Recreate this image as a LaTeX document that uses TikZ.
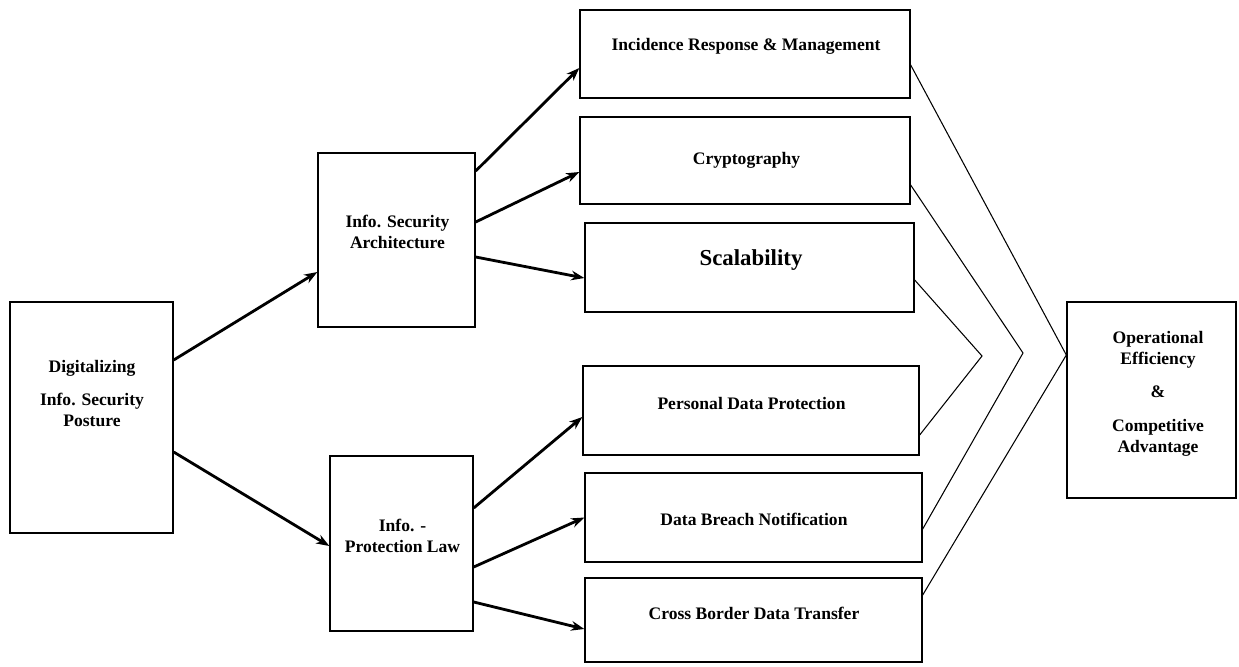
\documentclass[tikz,border=0pt]{standalone}
\usepackage{fontspec}
\setmainfont{Liberation Serif}
\usetikzlibrary{arrows.meta}
\tikzset{
  box/.style={draw,line width=0.8pt,inner sep=0pt},
  txt/.style={font=\bfseries\fontsize{10}{12}\selectfont,align=center,inner sep=0pt},
  link/.style={-{Stealth[length=7.5pt,width=5.5pt]},line width=1.6pt},
  fan/.style={line width=0.6pt}
}
\begin{document}
\begin{tikzpicture}[x=0.02cm,y=-0.02cm]
\useasboundingbox (0,0) rectangle (1239,666);
\node[box,minimum width=3.26cm,minimum height=4.62cm] (dig) at (91.5,417.5) {};
\node[box,minimum width=3.14cm,minimum height=3.48cm] (arch) at (396.5,240) {};
\node[box,minimum width=2.86cm,minimum height=3.5cm] (law) at (401.5,543.5) {};
\node[box,minimum width=6.6cm,minimum height=1.76cm] (inc) at (745,54) {};
\node[box,minimum width=6.6cm,minimum height=1.74cm] (cry) at (745,160.5) {};
\node[box,minimum width=6.58cm,minimum height=1.78cm] (sca) at (749.5,267.5) {};
\node[box,minimum width=6.72cm,minimum height=1.78cm] (pdp) at (751,410.5) {};
\node[box,minimum width=6.74cm,minimum height=1.78cm] (dbn) at (753.5,517.5) {};
\node[box,minimum width=6.74cm,minimum height=1.68cm] (cbt) at (753.5,620) {};
\node[box,minimum width=3.38cm,minimum height=3.92cm] (out) at (1151.5,400) {};
\node[txt] (digtxt) at (92,393.5) {Digitalizing\\[7pt]Info. Security\\Posture};
\node[txt] (archtxt) at (397.5,232) {Info. Security\\Architecture};
\node[txt] (lawtxt) at (402.5,536) {Info. -\\Protection Law};
\node[txt] (inctxt) at (746,46) {Incidence Response \& Management};
\node[txt] (crytxt) at (746.5,160) {Cryptography};
\node[txt,font=\bfseries\fontsize{13}{15}\selectfont] (scatxt) at (751,260) {Scalability};
\node[txt] (pdptxt) at (751.5,403) {Personal Data Protection};
\node[txt] (dbntxt) at (754,519) {Data Breach Notification};
\node[txt] (cbttxt) at (754,613) {Cross Border Data Transfer};
\node[txt] (outtxt) at (1158,393.5) {Operational\\Efficiency\\[7pt]\&\\[7pt]Competitive\\Advantage};
\draw[link] ([yshift=1.15cm]dig.east) -- ([yshift=-0.64cm]arch.west);
\draw[link] ([yshift=-0.69cm]dig.east) -- ([yshift=-0.05cm]law.west);
\draw[link] ([yshift=1.38cm]arch.east) -- ([yshift=-0.28cm]inc.west);
\draw[link] ([yshift=0.36cm]arch.east) -- ([yshift=-0.23cm]cry.west);
\draw[link] ([yshift=-0.34cm]arch.east) -- ([yshift=-0.21cm]sca.west);
\draw[link] ([yshift=0.71cm]law.east) -- ([yshift=-0.13cm]pdp.west);
\draw[link] ([yshift=-0.47cm]law.east) -- (dbn.west);
\draw[link] ([yshift=-1.17cm]law.east) -- ([yshift=-0.18cm]cbt.west);
\coordinate (apexA) at (982,356);
\coordinate (apexB) at (1023,353);
\draw[fan] ([yshift=-0.25cm]sca.east) -- (apexA) -- ([yshift=-0.49cm]pdp.east);
\draw[fan] ([yshift=-0.49cm]cry.east) -- (apexB) -- ([yshift=-0.23cm]dbn.east);
\draw[fan] ([yshift=-0.22cm]inc.east) -- ([yshift=0.9cm]out.west) -- ([yshift=0.5cm]cbt.east);
\end{tikzpicture}
\end{document}
